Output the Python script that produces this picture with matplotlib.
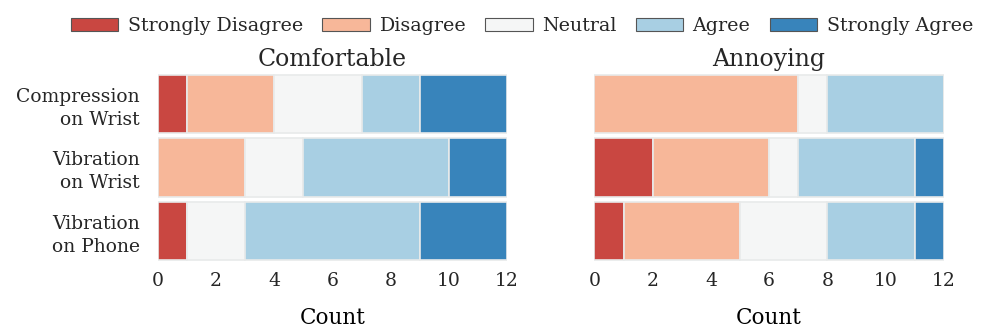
import matplotlib.pyplot as plt
import numpy as np
from matplotlib.patches import Patch

plt.rcParams['font.family'] = ['DejaVu Serif']
plt.rcParams['text.color'] = '#262626'
plt.rcParams['xtick.color'] = '#262626'
plt.rcParams['ytick.color'] = '#262626'

# Likert response counts per condition
conditions = ['Compression\non Wrist', 'Vibration\non Wrist', 'Vibration\non Phone']
levels = ['Strongly Disagree', 'Disagree', 'Neutral', 'Agree', 'Strongly Agree']
level_colors = ['#c94741', '#f7b799', '#f5f6f6', '#a8cfe3', '#3884bb']

comfortable = {
    'Strongly Disagree': [1, 0, 1],
    'Disagree':          [3, 3, 0],
    'Neutral':           [3, 2, 2],
    'Agree':             [2, 5, 6],
    'Strongly Agree':    [3, 2, 3],
}
annoying = {
    'Strongly Disagree': [0, 2, 1],
    'Disagree':          [7, 4, 4],
    'Neutral':           [1, 1, 3],
    'Agree':             [4, 4, 3],
    'Strongly Agree':    [0, 1, 1],
}
panel_titles = ['Comfortable', 'Annoying']

fig, axes = plt.subplots(1, 2, figsize=(9.81, 3.30), dpi=100)
fig.subplots_adjust(left=0.161, right=0.962, top=0.78, bottom=0.205, wspace=0.25)

y = np.arange(len(conditions))
for ax, data, title in zip(axes, [comfortable, annoying], panel_titles):
    left = np.zeros(len(conditions))
    for lvl, col in zip(levels, level_colors):
        vals = np.array(data[lvl], dtype=float)
        ax.barh(y, vals, left=left, height=0.92, color=col,
                edgecolor='#e8eaea', linewidth=1.2)
        left += vals
    ax.set_ylim(len(conditions) - 0.5, -0.5)
    ax.set_xlim(0, 12)
    ax.set_xticks(range(0, 13, 2))
    ax.set_yticks(y)
    ax.set_title(title, fontsize=17, pad=5)
    ax.set_xlabel('Count', fontsize=15.5, labelpad=12)
    ax.tick_params(axis='x', length=0, labelsize=13.5, pad=7)
    ax.tick_params(axis='y', length=0, labelsize=13.5, pad=13)
    for s in ax.spines.values():
        s.set_visible(False)

axes[0].set_yticklabels(conditions, linespacing=1.35)
axes[1].set_yticklabels([])

handles = [Patch(facecolor=c, edgecolor='#555555', linewidth=0.8) for c in level_colors]
fig.legend(handles, levels, loc='upper center', bbox_to_anchor=(0.532, 1.0),
           ncol=5, frameon=False, fontsize=13.7, handlelength=2.5,
           handletextpad=0.5, columnspacing=1.0)

fig.savefig('out.png', dpi=100)
